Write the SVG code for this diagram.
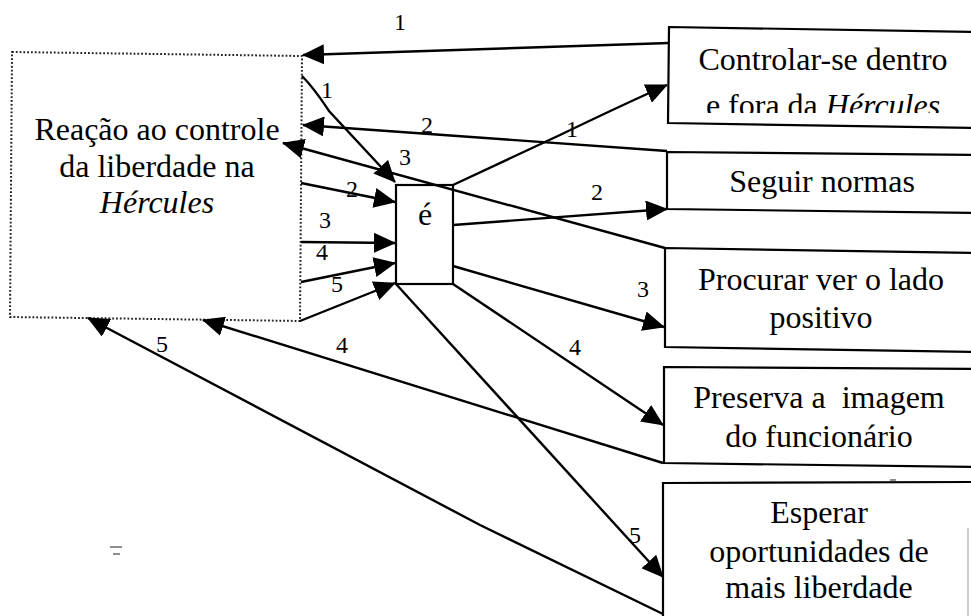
<svg xmlns="http://www.w3.org/2000/svg" width="971" height="616" viewBox="0 0 971 616" font-family="Liberation Serif, serif">
  <style>
    text { fill: #000; text-anchor: middle; }
    .txt { font-size: 32px; }
    .num { font-size: 24px; }
    .box { fill: #fff; stroke: #000; stroke-width: 2.2; }
    .dotbox { fill: #fff; stroke: #222; stroke-width: 2; stroke-dasharray: 1.8 2; }
    .edge { fill: none; stroke: #000; stroke-width: 2.4; marker-end: url(#arrow); }
    .mark { stroke: #444; stroke-width: 1.2; }
  </style>
  <defs>
    <marker id="arrow" markerUnits="userSpaceOnUse" viewBox="0 0 22 20" refX="21" refY="10" markerWidth="22" markerHeight="20" orient="auto">
      <path d="M0,0 L22,10 L0,20 z" fill="#000"/>
    </marker>
    <clipPath id="clipTop">
      <rect x="669" y="28" width="310" height="85"/>
    </clipPath>
  </defs>

  <rect width="971" height="616" fill="#fff"/>

  <!-- source node -->
  <g id="reacao">
    <polygon class="dotbox" points="12,52 302,56 300,321 10,317"/>
    <text class="txt" x="157" y="140">Reação ao controle</text>
    <text class="txt" x="157" y="177">da liberdade na</text>
    <text class="txt" x="157" y="213" font-style="italic">Hércules</text>
  </g>

  <!-- central node -->
  <g id="e">
    <rect class="box" x="396" y="185" width="57" height="99"/>
    <text class="txt" x="425" y="225">é</text>
  </g>

  <!-- target nodes -->
  <g id="controlar">
    <polygon class="box" points="669,27 975,32 975,128 668,123"/>
    <g clip-path="url(#clipTop)">
      <text class="txt" x="823" y="70">Controlar-se dentro</text>
      <text class="txt" x="823" y="116">e fora da <tspan font-style="italic">Hércules</tspan></text>
    </g>
  </g>
  <g id="seguir">
    <polygon class="box" points="667,152 975,155 975,213 667,209"/>
    <text class="txt" x="822" y="192">Seguir normas</text>
  </g>
  <g id="procurar">
    <polygon class="box" points="665,248 975,253 975,352 665,347"/>
    <text class="txt" x="821" y="290">Procurar ver o lado</text>
    <text class="txt" x="821" y="328">positivo</text>
  </g>
  <g id="preserva">
    <polygon class="box" points="664,367 975,369 975,467 664,463"/>
    <text class="txt" x="819" y="408" xml:space="preserve">Preserva a  imagem</text>
    <text class="txt" x="819" y="447">do funcionário</text>
  </g>
  <g id="esperar">
    <polygon class="box" points="663,483 975,482 975,620 663,620"/>
    <line x1="968" y1="528" x2="968" y2="616" stroke="#999" stroke-width="1"/>
    <text class="txt" x="819" y="523">Esperar</text>
    <text class="txt" x="819" y="562">oportunidades de</text>
    <text class="txt" x="819" y="598">mais liberdade</text>
  </g>

  <!-- connectors -->
  <g id="connectors">
    <!-- returns to the source node -->
    <path class="edge" d="M669,43 L303,55"/>
    <path class="edge" d="M667,151 L303,125"/>
    <path class="edge" d="M665,248 L283,143"/>
    <path class="edge" d="M663,463 L203,320"/>
    <path class="edge" d="M663,614 L480,525 L88,318"/>

    <!-- source node into "é" -->
    <path class="edge" d="M302,76 C314,88 321,99 329,111 L395,182"/>
    <path class="edge" d="M301,183 L395,202"/>
    <path class="edge" d="M301,242 L395,243"/>
    <path class="edge" d="M301,282 L395,263"/>
    <path class="edge" d="M300,321 L395,283"/>

    <!-- "é" out to the targets -->
    <path class="edge" d="M453,185 L560,135 Q620,106 667,85"/>
    <path class="edge" d="M453,225 L667,209"/>
    <path class="edge" d="M453,266 L664,327"/>
    <path class="edge" d="M453,284 L663,425"/>
    <path class="edge" d="M396,284 L663,577"/>

    <!-- labels -->
    <text class="num" x="400" y="30">1</text>
    <text class="num" x="327" y="98" font-size="26">1</text>
    <text class="num" x="427" y="133">2</text>
    <text class="num" x="405" y="165">3</text>
    <text class="num" x="352" y="197">2</text>
    <text class="num" x="325" y="228">3</text>
    <text class="num" x="322" y="260">4</text>
    <text class="num" x="337" y="292">5</text>
    <text class="num" x="572" y="137">1</text>
    <text class="num" x="597" y="200">2</text>
    <text class="num" x="643" y="297">3</text>
    <text class="num" x="575" y="355">4</text>
    <text class="num" x="635" y="543">5</text>
    <text class="num" x="342" y="353">4</text>
    <text class="num" x="162" y="352">5</text>
  </g>

  <!-- stray marks -->
  <line class="mark" x1="110" y1="547" x2="122" y2="547"/>
  <line class="mark" x1="113" y1="554" x2="120" y2="554"/>
  <line class="mark" x1="890" y1="480" x2="896" y2="480"/>
</svg>
